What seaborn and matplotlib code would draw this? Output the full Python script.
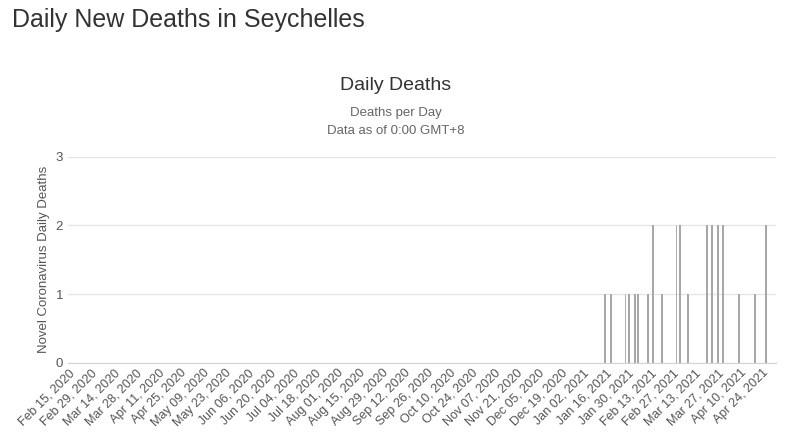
import numpy as np
import pandas as pd
import seaborn as sns
import matplotlib.pyplot as plt

# datos: dias con muertes (indice de dia desde Feb 15, 2020)
fechas = pd.date_range("2020-02-15", "2021-05-02", freq="D")
dias_muertes = [335, 339, 348, 350, 354, 356, 362, 365, 371, 380, 382, 387,
                399, 402, 406, 409, 419, 429, 436]
muertes_dia = [1, 1, 1, 1, 1, 1, 1, 2, 1, 2, 2, 1,
               2, 2, 2, 2, 1, 1, 2]

muertes = np.zeros(len(fechas))
muertes[dias_muertes] = muertes_dia
df = pd.DataFrame({"fecha": fechas.strftime("%b %d, %Y"), "muertes": muertes})

sns.set_style("white")
plt.rcParams["font.family"] = ["Liberation Sans", "DejaVu Sans"]
fig = plt.figure(figsize=(7.91, 4.48), dpi=100)
ax = fig.add_axes([0.086, 0.19, 0.895, 0.46])

sns.barplot(data=df, x="fecha", y="muertes", color="#a0a0a0", width=0.5,
            ax=ax, edgecolor="#a0a0a0", linewidth=0.6)

ax.set_ylim(0, 3)
ax.set_yticks([0, 1, 2, 3])
ax.set_xlim(-0.5, len(fechas) - 0.5)
ticks = list(range(0, len(fechas), 14))
ax.set_xticks(ticks)
ax.set_xticklabels(df["fecha"].iloc[ticks], rotation=45, ha="right",
                   fontsize=9, color="#555555", rotation_mode="anchor")
ax.tick_params(axis="y", labelsize=9.5, colors="#555555", length=0)
ax.tick_params(axis="x", length=0, pad=3)
ax.grid(axis="y", color="#e6e6e6", linewidth=1)
ax.set_axisbelow(True)
for s in ["top", "right", "left"]:
    ax.spines[s].set_visible(False)
ax.spines["bottom"].set_color("#ccd6eb")
ax.set_xlabel("")
ax.set_ylabel("Novel Coronavirus Daily Deaths", fontsize=9.5, color="#555555")

fig.text(0.015, 0.94, "Daily New Deaths in Seychelles", fontsize=18, color="#333333")
fig.text(0.5, 0.8, "Daily Deaths", fontsize=14, color="#333333", ha="center")
fig.text(0.5, 0.74, "Deaths per Day", fontsize=9.5, color="#666666", ha="center")
fig.text(0.5, 0.7, "Data as of 0:00 GMT+8", fontsize=9.5, color="#666666", ha="center")

fig.savefig("out.png", dpi=100)
